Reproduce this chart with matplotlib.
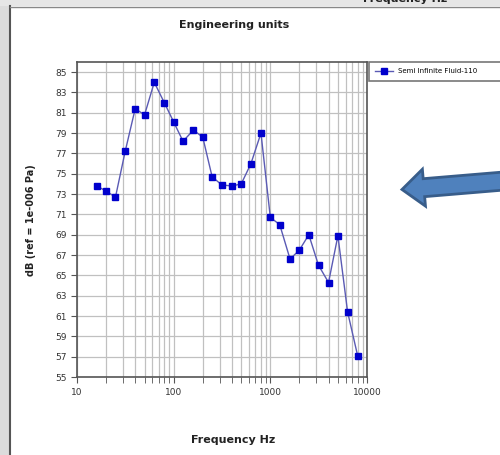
import matplotlib.pyplot as plt
from matplotlib.patches import Rectangle, FancyArrow
from matplotlib.lines import Line2D
from matplotlib.ticker import FixedLocator, NullFormatter, LogLocator

# one-third octave band centres and levels
freq_hz = [16, 20, 25, 31.5, 40, 50, 63, 80, 100, 125, 160, 200, 250, 315,
           400, 500, 630, 800, 1000, 1250, 1600, 2000, 2500, 3150, 4000,
           5000, 6300, 8000]
level_db = [73.8, 73.3, 72.7, 77.2, 81.4, 80.8, 84.0, 82.0, 80.1, 78.2, 79.3,
            78.6, 74.7, 73.9, 73.8, 74.0, 76.0, 79.0, 70.7, 70.0, 66.6, 67.5,
            69.0, 66.0, 64.3, 68.9, 61.4, 57.1]
series_name = 'Semi Infinite Fluid-110'
y_ticks = list(range(55, 86, 2))
x_ticks = [10, 100, 1000, 10000]

W, H = 500, 455
fig = plt.figure(figsize=(W / 100, H / 100), dpi=100)
fig.patch.set_facecolor('white')

# window chrome around the chart
fig.patches.append(Rectangle((0, 0), 9 / W, 1, transform=fig.transFigure,
                             facecolor='#dcdcdc', edgecolor='none'))
fig.patches.append(Rectangle((0, 1 - 6 / H), 1, 6 / H, transform=fig.transFigure,
                             facecolor='#e6e6e6', edgecolor='none'))
fig.lines.append(Line2D([9.5 / W, 9.5 / W], [0, 1 - 6 / H], transform=fig.transFigure,
                        color='#555555', lw=1.5))
fig.lines.append(Line2D([9.5 / W, 1], [1 - 6.5 / H, 1 - 6.5 / H], transform=fig.transFigure,
                        color='#888888', lw=1))
fig.text(405 / W, 1 + 1 / H, 'Frequency Hz', ha='center', va='center',
         fontsize=8, fontweight='bold', color='#222222')

ax = fig.add_axes([77 / W, 1 - 377 / H, 290 / W, 315 / H])
ax.plot(freq_hz, level_db, color='#5a5ab4', lw=1, marker='s', ms=4.5,
        mfc='#0000cc', mec='#0000cc', label=series_name)
ax.set_xscale('log')
ax.set_xlim(10, 10000)
ax.set_ylim(55, 86)
ax.xaxis.set_major_locator(FixedLocator(x_ticks))
ax.xaxis.set_minor_locator(LogLocator(base=10, subs=range(2, 10)))
ax.xaxis.set_minor_formatter(NullFormatter())
ax.set_xticklabels([str(t) for t in x_ticks])
ax.set_yticks(y_ticks)
ax.grid(True, which='both', color='#c0c0c0', lw=0.9)
ax.set_axisbelow(True)
for s in ax.spines.values():
    s.set_color('#555555')
    s.set_linewidth(1.2)
ax.tick_params(axis='both', which='major', labelsize=6.5, length=4,
               color='#555555', labelcolor='#333333', direction='out')
ax.tick_params(axis='x', which='minor', length=4, color='#555555')
ax.tick_params(axis='x', pad=4)

fig.text(234 / W, 1 - 25 / H, 'Engineering units', ha='center', va='center',
         fontsize=8, fontweight='bold', color='#222222')
fig.text(233 / W, 1 - 440 / H, 'Frequency Hz', ha='center', va='center',
         fontsize=8, fontweight='bold', color='#222222')
fig.text(31 / W, 1 - 220 / H, 'dB (ref = 1e-006 Pa)', ha='center', va='center',
         rotation=90, fontsize=7, fontweight='bold', color='#222222')

# legend box runs off the right edge as in the reference
leg = fig.legend(loc='upper left', bbox_to_anchor=(369 / W, 1 - 82 / H, 150 / W, 20 / H),
                 mode='expand', fontsize=5, frameon=True, fancybox=False,
                 handlelength=2.5, borderpad=0.9, borderaxespad=0)
leg.get_frame().set_edgecolor('#555555')
leg.get_frame().set_linewidth(1.2)

# block arrow pointing at the chart
arrow = FancyArrow(5.1, 2.745, -1.08, -0.09, width=0.18, head_width=0.37,
                   head_length=0.22, length_includes_head=True,
                   transform=fig.dpi_scale_trans, facecolor='#4f81bd',
                   edgecolor='#385d8a', lw=2)
fig.patches.append(arrow)

fig.savefig('out.png', dpi=100)
